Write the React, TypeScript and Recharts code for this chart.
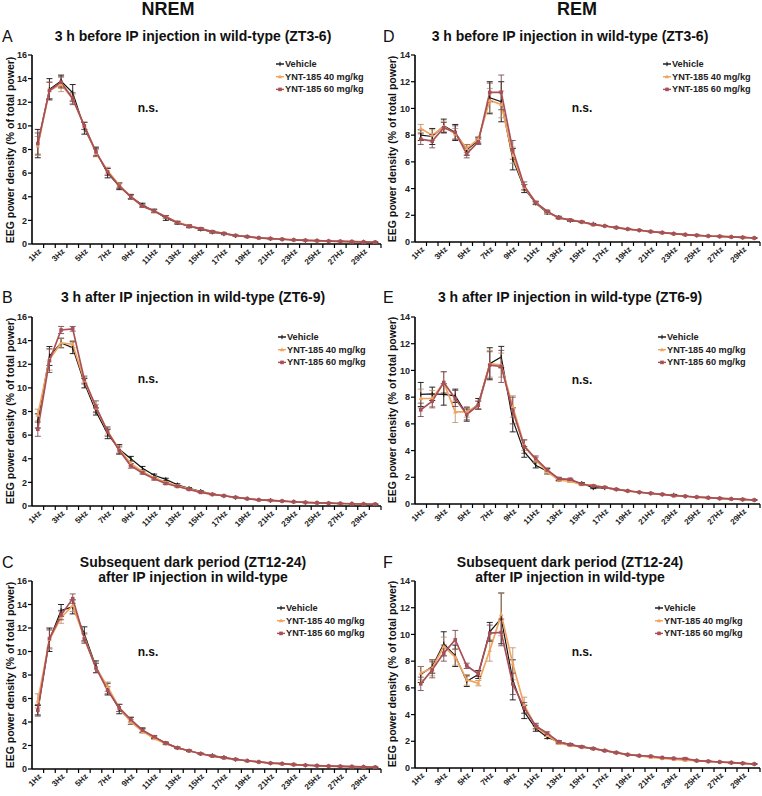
import React from "react";
import { LineChart, Line, XAxis, YAxis, ErrorBar } from "recharts";

// frequency bins, 1 Hz wide
const FREQ_LABELS = [
  "1Hz", "2Hz", "3Hz", "4Hz", "5Hz", "6Hz", "7Hz", "8Hz", "9Hz", "10Hz",
  "11Hz", "12Hz", "13Hz", "14Hz", "15Hz", "16Hz", "17Hz", "18Hz", "19Hz", "20Hz",
  "21Hz", "22Hz", "23Hz", "24Hz", "25Hz", "26Hz", "27Hz", "28Hz", "29Hz", "30Hz",
];
const FREQ_POS = [1, 2, 3, 4, 5, 6, 7, 8, 9, 10, 11, 12, 13, 14, 15, 16, 17, 18, 19, 20, 21, 22, 23, 24, 25, 26, 27, 28, 29, 30];

const NREM_TICKS = [0, 2, 4, 6, 8, 10, 12, 14, 16];
const REM_TICKS = [0, 2, 4, 6, 8, 10, 12, 14];

const SERIES_NAMES = ["Vehicle", "YNT-185 40 mg/kg", "YNT-185 60 mg/kg"];

// A: NREM, ZT3-6
const A_VEH = [8.5, 13.1, 13.8, 12.8, 9.8, 7.8, 6.0, 4.9, 4.0, 3.3, 2.8, 2.2, 1.8, 1.5, 1.25, 1.0, 0.85, 0.7, 0.62, 0.52, 0.45, 0.4, 0.35, 0.3, 0.28, 0.25, 0.22, 0.2, 0.18, 0.15];
const A_40 = [8.3, 13.0, 13.5, 12.3, 10.0, 7.7, 6.2, 5.0, 4.0, 3.2, 2.8, 2.3, 1.85, 1.55, 1.3, 1.05, 0.9, 0.72, 0.62, 0.52, 0.46, 0.4, 0.35, 0.31, 0.28, 0.25, 0.22, 0.2, 0.18, 0.15];
const A_60 = [8.5, 13.0, 13.7, 12.3, 10.0, 7.8, 6.1, 4.9, 4.0, 3.2, 2.8, 2.3, 1.8, 1.5, 1.3, 1.05, 0.9, 0.72, 0.62, 0.52, 0.46, 0.4, 0.35, 0.31, 0.28, 0.25, 0.22, 0.2, 0.18, 0.15];
const A_VEH_ERR = [1.2, 0.9, 0.5, 0.7, 0.5, 0.4, 0.4, 0.3, 0.2, 0.15, 0.15, 0.2, 0.12, 0.12, 0.1, 0.08, 0.06, 0.05, 0.04, 0.03, 0.03, 0.03, 0.02, 0.02, 0.02, 0.02, 0.02, 0.02, 0.02, 0.02];
const A_40_ERR = [0.8, 0.7, 0.6, 0.4, 0.3, 0.3, 0.3, 0.2, 0.15, 0.1, 0.1, 0.1, 0.08, 0.08, 0.06, 0.05, 0.04, 0.03, 0.03, 0.02, 0.02, 0.02, 0.02, 0.02, 0.02, 0.02, 0.02, 0.02, 0.02, 0.02];
const A_60_ERR = [0.9, 0.7, 0.5, 0.5, 0.3, 0.3, 0.3, 0.2, 0.15, 0.1, 0.1, 0.1, 0.08, 0.08, 0.06, 0.05, 0.04, 0.03, 0.03, 0.02, 0.02, 0.02, 0.02, 0.02, 0.02, 0.02, 0.02, 0.02, 0.02, 0.02];

// B: NREM, ZT6-9
const B_VEH = [7.2, 12.7, 13.8, 13.4, 10.4, 8.0, 6.1, 4.8, 4.0, 3.2, 2.6, 2.25, 1.8, 1.5, 1.25, 1.0, 0.85, 0.72, 0.62, 0.52, 0.47, 0.42, 0.36, 0.3, 0.27, 0.24, 0.21, 0.19, 0.17, 0.15];
const B_40 = [7.7, 12.4, 13.8, 13.7, 10.6, 8.3, 6.3, 4.8, 3.6, 2.9, 2.4, 2.0, 1.7, 1.45, 1.2, 1.0, 0.87, 0.73, 0.62, 0.52, 0.47, 0.42, 0.36, 0.3, 0.27, 0.24, 0.21, 0.19, 0.17, 0.15];
const B_60 = [6.5, 12.3, 14.9, 15.0, 10.7, 8.4, 6.3, 4.7, 3.4, 2.8, 2.3, 1.9, 1.65, 1.4, 1.15, 0.98, 0.87, 0.73, 0.62, 0.52, 0.47, 0.42, 0.36, 0.3, 0.27, 0.24, 0.21, 0.19, 0.17, 0.15];
const B_VEH_ERR = [0.6, 0.8, 0.4, 0.5, 0.4, 0.3, 0.4, 0.4, 0.2, 0.15, 0.1, 0.1, 0.08, 0.06, 0.05, 0.04, 0.03, 0.03, 0.02, 0.02, 0.02, 0.02, 0.02, 0.02, 0.02, 0.02, 0.02, 0.02, 0.02, 0.02];
const B_40_ERR = [0.5, 0.9, 0.4, 0.3, 0.3, 0.3, 0.3, 0.3, 0.2, 0.1, 0.1, 0.08, 0.06, 0.05, 0.04, 0.03, 0.03, 0.02, 0.02, 0.02, 0.02, 0.02, 0.02, 0.02, 0.02, 0.02, 0.02, 0.02, 0.02, 0.02];
const B_60_ERR = [0.6, 1.0, 0.3, 0.2, 0.3, 0.5, 0.4, 0.3, 0.2, 0.1, 0.1, 0.08, 0.06, 0.05, 0.04, 0.03, 0.03, 0.02, 0.02, 0.02, 0.02, 0.02, 0.02, 0.02, 0.02, 0.02, 0.02, 0.02, 0.02, 0.02];

// C: NREM, ZT12-24
const C_VEH = [5.0, 11.0, 13.5, 13.8, 11.5, 8.7, 6.8, 5.1, 4.1, 3.3, 2.7, 2.2, 1.8, 1.55, 1.3, 1.15, 1.0, 0.82, 0.7, 0.6, 0.5, 0.45, 0.38, 0.32, 0.28, 0.25, 0.22, 0.2, 0.18, 0.15];
const C_40 = [5.8, 11.0, 12.9, 13.9, 11.2, 8.6, 7.0, 5.2, 4.0, 3.2, 2.6, 2.15, 1.8, 1.55, 1.3, 1.1, 0.95, 0.82, 0.7, 0.6, 0.5, 0.45, 0.38, 0.32, 0.28, 0.25, 0.22, 0.2, 0.18, 0.15];
const C_60 = [5.0, 11.1, 13.1, 14.5, 11.1, 8.6, 6.7, 5.2, 4.2, 3.3, 2.75, 2.2, 1.8, 1.55, 1.3, 1.1, 0.95, 0.82, 0.7, 0.6, 0.5, 0.45, 0.38, 0.32, 0.28, 0.25, 0.22, 0.2, 0.18, 0.15];
const C_VEH_ERR = [0.4, 1.0, 0.5, 0.6, 0.6, 0.5, 0.5, 0.4, 0.3, 0.2, 0.1, 0.08, 0.06, 0.05, 0.04, 0.04, 0.03, 0.03, 0.02, 0.02, 0.02, 0.02, 0.02, 0.02, 0.02, 0.02, 0.02, 0.02, 0.02, 0.02];
const C_40_ERR = [0.6, 0.8, 0.5, 0.5, 0.4, 0.4, 0.4, 0.3, 0.2, 0.15, 0.1, 0.08, 0.06, 0.05, 0.04, 0.04, 0.03, 0.03, 0.02, 0.02, 0.02, 0.02, 0.02, 0.02, 0.02, 0.02, 0.02, 0.02, 0.02, 0.02];
const C_60_ERR = [0.5, 0.8, 0.4, 0.4, 0.4, 0.4, 0.3, 0.3, 0.2, 0.15, 0.1, 0.08, 0.06, 0.05, 0.04, 0.04, 0.03, 0.03, 0.02, 0.02, 0.02, 0.02, 0.02, 0.02, 0.02, 0.02, 0.02, 0.02, 0.02, 0.02];

// D: REM, ZT3-6
const D_VEH = [8.0, 7.9, 8.7, 8.2, 6.9, 7.6, 10.8, 10.5, 6.2, 4.0, 2.9, 2.2, 1.85, 1.6, 1.5, 1.35, 1.2, 1.08, 0.97, 0.88, 0.78, 0.7, 0.62, 0.55, 0.5, 0.45, 0.42, 0.38, 0.34, 0.3];
const D_40 = [8.5, 8.0, 8.65, 8.1, 7.0, 7.7, 10.6, 10.3, 6.5, 4.1, 2.95, 2.25, 1.8, 1.65, 1.5, 1.3, 1.2, 1.08, 0.97, 0.88, 0.78, 0.7, 0.62, 0.55, 0.5, 0.45, 0.42, 0.38, 0.34, 0.3];
const D_60 = [7.7, 7.55, 8.55, 8.2, 6.6, 7.5, 11.2, 11.2, 6.9, 4.2, 2.95, 2.3, 1.8, 1.65, 1.5, 1.3, 1.2, 1.08, 0.97, 0.88, 0.78, 0.7, 0.62, 0.55, 0.5, 0.45, 0.42, 0.38, 0.34, 0.3];
const D_VEH_ERR = [0.4, 0.6, 0.5, 0.6, 0.4, 0.2, 1.2, 1.5, 0.8, 0.3, 0.1, 0.1, 0.08, 0.06, 0.05, 0.04, 0.03, 0.03, 0.02, 0.02, 0.02, 0.02, 0.02, 0.02, 0.02, 0.02, 0.02, 0.02, 0.02, 0.02];
const D_40_ERR = [0.3, 0.4, 0.4, 0.4, 0.3, 0.2, 0.9, 1.0, 0.6, 0.2, 0.1, 0.08, 0.06, 0.05, 0.04, 0.03, 0.03, 0.02, 0.02, 0.02, 0.02, 0.02, 0.02, 0.02, 0.02, 0.02, 0.02, 0.02, 0.02, 0.02];
const D_60_ERR = [0.4, 0.5, 0.4, 0.5, 0.3, 0.2, 0.7, 1.3, 0.7, 0.3, 0.1, 0.08, 0.06, 0.05, 0.04, 0.03, 0.03, 0.02, 0.02, 0.02, 0.02, 0.02, 0.02, 0.02, 0.02, 0.02, 0.02, 0.02, 0.02, 0.02];

// E: REM, ZT6-9
const E_VEH = [8.2, 8.25, 8.2, 8.1, 6.7, 7.5, 10.5, 11.0, 6.3, 3.9, 2.9, 2.45, 1.85, 1.75, 1.55, 1.2, 1.2, 1.1, 0.98, 0.88, 0.8, 0.72, 0.68, 0.58, 0.52, 0.47, 0.42, 0.38, 0.34, 0.3];
const E_40 = [7.9, 7.9, 9.1, 6.9, 6.9, 7.4, 10.5, 10.4, 7.3, 4.4, 3.3, 2.4, 1.8, 1.7, 1.45, 1.4, 1.25, 1.1, 0.98, 0.88, 0.8, 0.72, 0.62, 0.58, 0.52, 0.47, 0.42, 0.38, 0.34, 0.3];
const E_60 = [7.05, 7.7, 9.1, 7.9, 6.7, 7.4, 10.4, 10.3, 7.0, 4.3, 3.4, 2.55, 1.9, 1.85, 1.5, 1.35, 1.25, 1.1, 0.98, 0.88, 0.8, 0.72, 0.62, 0.58, 0.52, 0.47, 0.42, 0.38, 0.34, 0.3];
const E_VEH_ERR = [0.9, 0.5, 0.8, 0.5, 0.5, 0.4, 1.2, 0.8, 0.9, 0.4, 0.2, 0.2, 0.1, 0.08, 0.06, 0.05, 0.04, 0.03, 0.02, 0.02, 0.02, 0.02, 0.04, 0.02, 0.02, 0.02, 0.02, 0.02, 0.02, 0.02];
const E_40_ERR = [0.7, 0.6, 0.8, 0.8, 0.4, 0.3, 1.0, 0.9, 0.8, 0.4, 0.2, 0.15, 0.1, 0.08, 0.06, 0.05, 0.04, 0.03, 0.02, 0.02, 0.02, 0.02, 0.02, 0.02, 0.02, 0.02, 0.02, 0.02, 0.02, 0.02];
const E_60_ERR = [0.5, 0.5, 0.8, 0.6, 0.4, 0.3, 1.0, 1.2, 1.0, 0.5, 0.2, 0.15, 0.1, 0.08, 0.06, 0.05, 0.04, 0.03, 0.02, 0.02, 0.02, 0.02, 0.02, 0.02, 0.02, 0.02, 0.02, 0.02, 0.02, 0.02];

// F: REM, ZT12-24
const F_VEH = [7.0, 7.6, 9.3, 8.4, 6.5, 7.0, 10.2, 11.2, 6.6, 4.2, 2.95, 2.3, 1.95, 1.75, 1.58, 1.45, 1.3, 1.15, 1.0, 0.92, 0.85, 0.75, 0.7, 0.65, 0.55, 0.5, 0.45, 0.4, 0.35, 0.3];
const F_40 = [7.1, 7.5, 9.1, 8.3, 6.6, 6.35, 8.8, 11.5, 7.8, 4.7, 3.1, 2.45, 1.85, 1.7, 1.58, 1.45, 1.3, 1.15, 1.0, 0.92, 0.8, 0.72, 0.65, 0.58, 0.55, 0.5, 0.45, 0.4, 0.35, 0.3];
const F_60 = [6.3, 7.35, 8.6, 9.6, 7.65, 7.05, 10.1, 10.15, 6.3, 4.5, 3.15, 2.6, 1.95, 1.75, 1.58, 1.45, 1.3, 1.15, 1.0, 0.92, 0.88, 0.78, 0.72, 0.7, 0.55, 0.5, 0.45, 0.4, 0.35, 0.3];
const F_VEH_ERR = [0.6, 0.5, 0.9, 0.8, 0.4, 0.3, 0.7, 1.9, 1.5, 0.5, 0.2, 0.1, 0.08, 0.06, 0.05, 0.04, 0.03, 0.03, 0.02, 0.02, 0.02, 0.02, 0.02, 0.08, 0.02, 0.02, 0.02, 0.02, 0.02, 0.02];
const F_40_ERR = [0.5, 0.6, 0.7, 0.6, 0.4, 0.2, 0.8, 1.6, 1.2, 0.6, 0.2, 0.1, 0.08, 0.06, 0.05, 0.04, 0.03, 0.03, 0.02, 0.02, 0.02, 0.02, 0.02, 0.04, 0.02, 0.02, 0.02, 0.02, 0.02, 0.02];
const F_60_ERR = [0.5, 0.6, 0.6, 0.7, 0.2, 0.2, 0.6, 1.0, 0.8, 0.4, 0.2, 0.1, 0.08, 0.06, 0.05, 0.04, 0.03, 0.03, 0.02, 0.02, 0.02, 0.02, 0.02, 0.04, 0.02, 0.02, 0.02, 0.02, 0.02, 0.02];

const C_VEHICLE = "#111111";
const C_40MG = "#f0a45e";
const C_60MG = "#a84f57";
const FONT = "'Liberation Sans', Arial, sans-serif";

type PanelProps = {
  left: number;
  top: number;
  width: number;
  yAxisW: number;
  rightPad: number;
  plotH: number;
  yMax: number;
  yTicks: number[];
  veh: number[];
  v40: number[];
  v60: number[];
  vehErr: number[];
  err40: number[];
  err60: number[];
};

const VehDot = (p: any) =>
  p.cx == null ? null : (
    <line key={`v${p.index}`} x1={p.cx} x2={p.cx} y1={p.cy - 2.2} y2={p.cy + 2.2} stroke={C_VEHICLE} strokeWidth={1} />
  );
const TriDot = (p: any) =>
  p.cx == null ? null : (
    <polygon
      key={`t${p.index}`}
      points={`${p.cx},${p.cy - 2.2} ${p.cx - 2.2},${p.cy + 1.6} ${p.cx + 2.2},${p.cy + 1.6}`}
      fill={C_40MG}
    />
  );
const SqDot = (p: any) =>
  p.cx == null ? null : (
    <rect key={`s${p.index}`} x={p.cx - 1.8} y={p.cy - 1.8} width={3.6} height={3.6} fill={C_60MG} />
  );

function Panel(props: PanelProps) {
  const { left, top, width, yAxisW, rightPad, plotH, yMax, yTicks } = props;
  const data = FREQ_POS.map((f, i) => ({
    f,
    veh: props.veh[i],
    v40: props.v40[i],
    v60: props.v60[i],
    vehErr: props.vehErr[i],
    err40: props.err40[i],
    err60: props.err60[i],
  }));
  const plotW = width - yAxisW - rightPad;
  const band = plotW / FREQ_POS.length;

  // tick marks sit on the bin boundaries, labels on every other bin
  const XTick = (t: any) => {
    const v = t.payload.value as number;
    const label = FREQ_LABELS[v - 1];
    const ax = t.x + 4;
    const ay = t.y + 8;
    return (
      <g>
        <line x1={t.x + band / 2} x2={t.x + band / 2} y1={t.y} y2={t.y + 4} stroke="#000" strokeWidth={1.2} />
        {v % 2 === 1 && (
          <text
            x={ax}
            y={ay}
            transform={`rotate(-45 ${ax} ${ay})`}
            textAnchor="end"
            fontSize={8}
            fontWeight="bold"
            fontFamily={FONT}
            fill="#222"
          >
            {label}
          </text>
        )}
      </g>
    );
  };

  return (
    <div style={{ position: "absolute", left, top }}>
      <LineChart
        width={width}
        height={10 + plotH + 30}
        data={data}
        margin={{ top: 10, right: rightPad, left: 0, bottom: 0 }}
      >
        <XAxis
          dataKey="f"
          type="number"
          domain={[0.5, 30.5]}
          ticks={FREQ_POS}
          interval={0}
          height={30}
          tickLine={false}
          tickSize={0}
          tickMargin={0}
          axisLine={{ stroke: "#000", strokeWidth: 1.6 }}
          tick={XTick}
        />
        <YAxis
          type="number"
          domain={[0, yMax]}
          ticks={yTicks}
          width={yAxisW}
          tickSize={4}
          tickMargin={1}
          axisLine={{ stroke: "#000", strokeWidth: 1.6 }}
          tickLine={{ stroke: "#000", strokeWidth: 1.2 }}
          tick={{ fontSize: 9, fontWeight: "bold", fill: "#222", fontFamily: FONT }}
        />
        <Line
          dataKey="veh"
          stroke={C_VEHICLE}
          strokeWidth={1.2}
          dot={VehDot}
          activeDot={false}
          isAnimationActive={false}
        >
          <ErrorBar dataKey="vehErr" width={3} stroke={C_VEHICLE} strokeWidth={0.9} direction="y" isAnimationActive={false} />
        </Line>
        <Line
          dataKey="v40"
          stroke={C_40MG}
          strokeWidth={1.7}
          dot={TriDot}
          activeDot={false}
          isAnimationActive={false}
        >
          <ErrorBar dataKey="err40" width={3} stroke="#b98a62" strokeWidth={0.8} direction="y" isAnimationActive={false} />
        </Line>
        <Line
          dataKey="v60"
          stroke={C_60MG}
          strokeWidth={1.7}
          dot={SqDot}
          activeDot={false}
          isAnimationActive={false}
        >
          <ErrorBar dataKey="err60" width={3} stroke="#6e3a40" strokeWidth={0.8} direction="y" isAnimationActive={false} />
        </Line>
      </LineChart>
    </div>
  );
}

function LegendBlock({ x, y }: { x: number; y: number }) {
  const colors = [C_VEHICLE, C_40MG, C_60MG];
  const step = 12.7;
  return (
    <g>
      {SERIES_NAMES.map((name, i) => {
        const cy = y + i * step;
        const cx = x + 4;
        return (
          <g key={name}>
            <line x1={x} x2={x + 8} y1={cy} y2={cy} stroke={colors[i]} strokeWidth={1.4} />
            {i === 0 && <line x1={cx} x2={cx} y1={cy - 2.2} y2={cy + 2.2} stroke={C_VEHICLE} strokeWidth={1} />}
            {i === 1 && <polygon points={`${cx},${cy - 2.2} ${cx - 2.2},${cy + 1.6} ${cx + 2.2},${cy + 1.6}`} fill={C_40MG} />}
            {i === 2 && <rect x={cx - 1.8} y={cy - 1.8} width={3.6} height={3.6} fill={C_60MG} />}
            <text x={x + 9} y={cy} dominantBaseline="central" fontSize={9.2} fontWeight="bold" fill="#222" fontFamily={FONT}>
              {name}
            </text>
          </g>
        );
      })}
    </g>
  );
}

const T = (p: any) => (
  <text
    dominantBaseline="central"
    fontFamily={FONT}
    fill="#111"
    fontWeight={p.fontWeight ?? "bold"}
    fontSize={p.fontSize ?? 14}
    textAnchor={p.anchor ?? "middle"}
    x={p.x}
    y={p.y}
    transform={p.rotate ? `rotate(-90 ${p.x} ${p.y})` : undefined}
  >
    {p.children}
  </text>
);

export default function App() {
  const yLabel = "EEG power density (% of total power)";
  const L = { left: 0, width: 382, yAxisW: 32, rightPad: 1 };
  const R = { left: 380, width: 382, yAxisW: 35, rightPad: 2 };
  return (
    <div style={{ position: "relative", width: 762, height: 796, background: "#fff", fontFamily: FONT, overflow: "hidden" }}>
      <style>{"body { margin: 0; }"}</style>
      <Panel {...L} top={45} plotH={189} yMax={16} yTicks={NREM_TICKS} veh={A_VEH} v40={A_40} v60={A_60} vehErr={A_VEH_ERR} err40={A_40_ERR} err60={A_60_ERR} />
      <Panel {...L} top={307} plotH={189} yMax={16} yTicks={NREM_TICKS} veh={B_VEH} v40={B_40} v60={B_60} vehErr={B_VEH_ERR} err40={B_40_ERR} err60={B_60_ERR} />
      <Panel {...L} top={571} plotH={188} yMax={16} yTicks={NREM_TICKS} veh={C_VEH} v40={C_40} v60={C_60} vehErr={C_VEH_ERR} err40={C_40_ERR} err60={C_60_ERR} />
      <Panel {...R} top={45} plotH={187} yMax={14} yTicks={REM_TICKS} veh={D_VEH} v40={D_40} v60={D_60} vehErr={D_VEH_ERR} err40={D_40_ERR} err60={D_60_ERR} />
      <Panel {...R} top={307} plotH={187} yMax={14} yTicks={REM_TICKS} veh={E_VEH} v40={E_40} v60={E_60} vehErr={E_VEH_ERR} err40={E_40_ERR} err60={E_60_ERR} />
      <Panel {...R} top={571} plotH={187} yMax={14} yTicks={REM_TICKS} veh={F_VEH} v40={F_40} v60={F_60} vehErr={F_VEH_ERR} err40={F_40_ERR} err60={F_60_ERR} />

      <svg width={762} height={796} style={{ position: "absolute", left: 0, top: 0, pointerEvents: "none" }}>
        <T x={168} y={9} fontSize={18}>NREM</T>
        <T x={577} y={9} fontSize={18}>REM</T>

        <T x={2} y={36} fontSize={16} fontWeight="normal" anchor="start">A</T>
        <T x={193} y={36}>3 h before IP injection in wild-type (ZT3-6)</T>
        <T x={383} y={36} fontSize={16} fontWeight="normal" anchor="start">D</T>
        <T x={570} y={36}>3 h before IP injection in wild-type (ZT3-6)</T>

        <T x={2} y={297} fontSize={16} fontWeight="normal" anchor="start">B</T>
        <T x={193} y={297}>3 h after IP injection in wild-type (ZT6-9)</T>
        <T x={383} y={297} fontSize={16} fontWeight="normal" anchor="start">E</T>
        <T x={570} y={297}>3 h after IP injection in wild-type (ZT6-9)</T>

        <T x={2} y={562} fontSize={16} fontWeight="normal" anchor="start">C</T>
        <T x={193} y={562}>Subsequent dark period (ZT12-24)</T>
        <T x={193} y={577}>after IP injection in wild-type</T>
        <T x={383} y={562} fontSize={16} fontWeight="normal" anchor="start">F</T>
        <T x={570} y={562}>Subsequent dark period (ZT12-24)</T>
        <T x={570} y={577}>after IP injection in wild-type</T>

        <T x={10} y={150} fontSize={10.5} rotate>{yLabel}</T>
        <T x={10} y={411} fontSize={10.5} rotate>{yLabel}</T>
        <T x={10} y={675} fontSize={10.5} rotate>{yLabel}</T>
        <T x={392} y={149} fontSize={10.5} rotate>{yLabel}</T>
        <T x={392} y={410} fontSize={10.5} rotate>{yLabel}</T>
        <T x={392} y={674} fontSize={10.5} rotate>{yLabel}</T>

        <T x={148} y={108} fontSize={12}>n.s.</T>
        <T x={148} y={379} fontSize={12}>n.s.</T>
        <T x={148} y={652} fontSize={12}>n.s.</T>
        <T x={582} y={108} fontSize={12}>n.s.</T>
        <T x={582} y={380} fontSize={12}>n.s.</T>
        <T x={582} y={652} fontSize={12}>n.s.</T>

        <LegendBlock x={276} y={64} />
        <LegendBlock x={278} y={337} />
        <LegendBlock x={277} y={608} />
        <LegendBlock x={663} y={64} />
        <LegendBlock x={658} y={337} />
        <LegendBlock x={655} y={608} />
      </svg>
    </div>
  );
}
